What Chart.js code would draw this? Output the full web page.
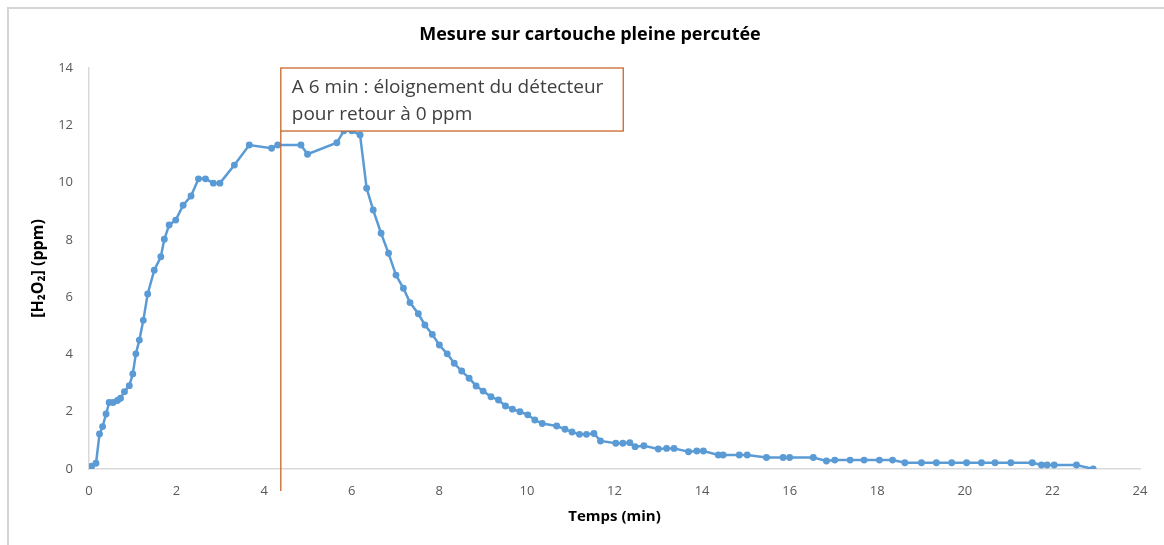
<!DOCTYPE html>
<html>
<head>
<meta charset="utf-8">
<script src="https://cdn.jsdelivr.net/npm/chart.js@4.4.1/dist/chart.umd.min.js"></script>
<style>
    html, body { margin: 0; padding: 0; background: #fff; overflow: hidden; }
    #frame { position: absolute; left: 7px; top: 7px; width: 1300px; height: 700px;
             border-left: 2px solid #d4d4d4; border-top: 2px solid #d4d4d4; }
    #wrap { position: absolute; left: 0; top: 0; width: 1164px; height: 545px; }
</style>
</head>
<body>
<div id="frame"></div>
<div id="wrap"><canvas id="chart"></canvas></div>
<script>
// Données
const temps = [0, 0.06, 0.16, 0.24, 0.31, 0.39, 0.46, 0.55, 0.65, 0.72, 0.81, 0.92, 1.0, 1.07, 1.15, 1.24, 1.34, 1.49, 1.64, 1.72,
    1.83, 1.98, 2.15, 2.33, 2.50, 2.66, 2.84, 2.99, 3.32, 3.66, 4.17, 4.31, 4.84, 4.99, 5.66, 5.82, 6.0, 6.19, 6.34, 6.49,
    6.67, 6.84, 7.01, 7.18, 7.33, 7.52, 7.67, 7.84, 8.0, 8.18, 8.34, 8.51, 8.68, 8.84, 9.0, 9.18, 9.35, 9.51, 9.67, 9.84,
    10.02, 10.18, 10.35, 10.68, 10.87, 11.03, 11.2, 11.36, 11.53, 11.68, 12.03, 12.19, 12.35, 12.47, 12.67, 13.0, 13.19, 13.36, 13.69, 13.88,
    14.03, 14.37, 14.48, 14.85, 15.03, 15.47, 15.85, 16.0, 16.54, 16.84, 17.03, 17.38, 17.70, 18.05, 18.35, 18.63, 19.01, 19.35, 19.70, 20.04,
    20.38, 20.69, 21.05, 21.54, 21.75, 21.88, 22.04, 22.55, 22.93];
const h2o2 = [0, 0.1, 0.2, 1.22, 1.48, 1.92, 2.32, 2.32, 2.39, 2.47, 2.70, 2.91, 3.32, 4.02, 4.5, 5.19, 6.11, 6.94, 7.41, 8.02,
    8.52, 8.69, 9.21, 9.53, 10.13, 10.13, 9.98, 9.98, 10.61, 11.31, 11.20, 11.31, 11.31, 10.99, 11.39, 11.81, 11.81, 11.66, 9.80, 9.04,
    8.23, 7.53, 6.77, 6.31, 5.81, 5.42, 5.03, 4.70, 4.33, 4.02, 3.69, 3.42, 3.17, 2.90, 2.72, 2.52, 2.41, 2.20, 2.09, 2.0,
    1.89, 1.71, 1.59, 1.50, 1.39, 1.29, 1.21, 1.21, 1.24, 0.98, 0.90, 0.90, 0.92, 0.78, 0.81, 0.70, 0.72, 0.72, 0.60, 0.63,
    0.63, 0.49, 0.49, 0.49, 0.49, 0.40, 0.40, 0.40, 0.40, 0.28, 0.31, 0.31, 0.31, 0.31, 0.31, 0.22, 0.22, 0.22, 0.22, 0.22,
    0.22, 0.22, 0.22, 0.22, 0.14, 0.14, 0.14, 0.14, 0];
const xTicks = [0, 2, 4, 6, 8, 10, 12, 14, 16, 18, 20, 22, 24];
const yTicks = [0, 2, 4, 6, 8, 10, 12, 14];

const chartTitle = 'Mesure sur cartouche pleine percutée';

// Annotation (valeurs sur les axes)
const noteX = 4.38;
const noteRight = 12.2;
const noteBottom = 11.8;
const noteLines = ['A 6 min : éloignement du détecteur', 'pour retour à 0 ppm'];

const FONT = '"Open Sans", Lato, sans-serif';
const ORANGE = '#c9672a';

// Titre + encadré d'annotation
const annotationPlugin = {
    id: 'note',
    afterDatasetsDraw(chart) {
        const ctx = chart.ctx;
        const xs = chart.scales.x, ys = chart.scales.y;
        const x0 = xs.getPixelForValue(noteX);
        const x1 = xs.getPixelForValue(noteRight);
        const yTop = ys.getPixelForValue(14);
        const yBot = ys.getPixelForValue(noteBottom);
        ctx.save();
        // titre
        ctx.fillStyle = '#000';
        ctx.font = 'bold 18px ' + FONT;
        ctx.textAlign = 'center';
        ctx.textBaseline = 'middle';
        ctx.fillText(chartTitle, chart.width / 2 + 8, 35);
        ctx.textAlign = 'left';

        ctx.strokeStyle = ORANGE;
        ctx.lineWidth = 1.3;
        // ligne verticale
        ctx.beginPath();
        ctx.moveTo(x0, yBot);
        ctx.lineTo(x0, ys.getPixelForValue(0) + 22);
        ctx.stroke();
        // cadre
        ctx.fillStyle = '#fff';
        ctx.fillRect(x0, yTop, x1 - x0, yBot - yTop);
        ctx.strokeRect(x0, yTop, x1 - x0, yBot - yTop);
        ctx.fillStyle = '#404040';
        ctx.font = '19px ' + FONT;
        ctx.fillText(noteLines[0], x0 + 11, yTop + 20);
        ctx.fillText(noteLines[1], x0 + 11, yTop + 47);
        ctx.restore();
    }
};

new Chart(document.getElementById('chart'), {
    type: 'line',
    data: {
        datasets: [{
            data: temps.map((t, i) => ({ x: t, y: h2o2[i] })),
            borderColor: '#5b9bd5',
            backgroundColor: '#5b9bd5',
            borderWidth: 2.5,
            pointRadius: 2.2,
            pointHoverRadius: 2.2,
            tension: 0,
            fill: false
        }]
    },
    options: {
        responsive: true,
        maintainAspectRatio: false,
        animation: false,
        layout: { padding: { left: 8, right: 24, top: 68, bottom: 0 } },
        plugins: {
            legend: { display: false },
            tooltip: { enabled: false },
            title: { display: false }
        },
        scales: {
            x: {
                type: 'linear',
                min: 0, max: 24,
                afterBuildTicks: s => { s.ticks = xTicks.map(v => ({ value: v })); },
                afterFit: s => { s.height = 76; },
                grid: { display: false, drawTicks: false },
                border: { display: true, color: '#d9d9d9', width: 1.5 },
                ticks: { color: '#595959', font: { family: FONT, size: 13 }, padding: 14 },
                title: {
                    display: true, text: 'Temps (min)', color: '#000',
                    font: { family: FONT, size: 15, weight: 'bold' }, padding: { top: 4, bottom: 19 }
                }
            },
            y: {
                min: 0, max: 14,
                afterBuildTicks: s => { s.ticks = yTicks.map(v => ({ value: v })); },
                afterFit: s => { s.width = 81; },
                grid: { display: false, drawTicks: false },
                border: { display: true, color: '#d9d9d9', width: 1.5 },
                ticks: { color: '#595959', font: { family: FONT, size: 13 }, padding: 16 },
                title: {
                    display: true, text: '[H₂O₂] (ppm)', color: '#000',
                    font: { family: FONT, size: 16, weight: 'bold' }, padding: { top: 21, bottom: 4 }
                }
            }
        }
    },
    plugins: [annotationPlugin]
});
</script>
</body>
</html>
